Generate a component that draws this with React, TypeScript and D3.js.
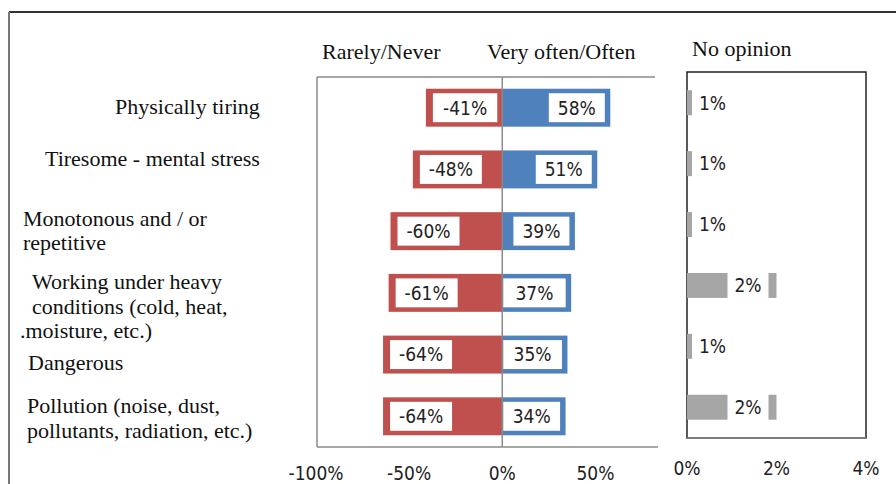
import React from "react";
import * as d3 from "d3";

// ---- data ----
const categoryLines: string[][] = [
  ["Physically tiring"],
  ["Tiresome - mental stress"],
  ["Monotonous and / or", "repetitive"],
  ["Working under heavy", "conditions (cold, heat,", ".moisture, etc.)"],
  ["Dangerous"],
  ["Pollution (noise, dust,", "pollutants, radiation, etc.)"],
];
const rarelyNever = [-41, -48, -60, -61, -64, -64];
const veryOften = [58, 51, 39, 37, 35, 34];
const noOpinion = [1, 1, 1, 2, 1, 2];
const mainTicks = [-100, -50, 0, 50];
const noOpTicks = [0, 2, 4];
const headerLeft = "Rarely/Never";
const headerRight = "Very often/Often";
const headerNoOp = "No opinion";

// ---- layout (styles / positions, not data) ----
const W = 896;
const H = 484;
const labelLayout = [
  { x: [115], dy: [6] },
  { x: [45], dy: [-3] },
  { x: [23, 23], dy: [-5, 19] },
  { x: [32, 32, 20], dy: [-4, 21, 45] },
  { x: [28], dy: [15] },
  { x: [27, 27], dy: [-3, 22] },
];

const RED = "#C0504D";
const BLUE = "#4F81BD";
const GRAY = "#A5A5A5";
const SERIF = "'Liberation Serif', 'Times New Roman', serif";
const SANS = "'DejaVu Sans Condensed', 'DejaVu Sans', sans-serif";

export default function App() {
  const idx = categoryLines.map((_, i) => i);
  const x = d3.scaleLinear().domain([-100, 82]).range([316, 655]);
  const y = d3.scaleBand<number>().domain(idx).range([77, 447]).paddingInner(0.385).paddingOuter(0.19);
  const x2 = d3.scaleLinear().domain([0, 4]).range([687, 866]);
  const y2 = d3.scaleBand<number>().domain(idx).range([72, 438]).paddingInner(0.59).paddingOuter(0.3);
  const fmt = (v: number) => `${v}%`;
  const x0 = x(0);
  const bh = y.bandwidth();

  return (
    <svg width={W} height={H} style={{ position: "absolute", left: 0, top: 0, background: "#fff" }}>
      {/* outer frame */}
      <line x1={9} x2={W} y1={12} y2={12} stroke="#333" strokeWidth={1.8} />
      <line x1={9} x2={9} y1={12} y2={H} stroke="#777" strokeWidth={2} />

      {/* headers */}
      <text x={322} y={59} fontFamily={SERIF} fontSize={22} fill="#111">{headerLeft}</text>
      <text x={487} y={59} fontFamily={SERIF} fontSize={22} fill="#111">{headerRight}</text>
      <text x={692} y={56} fontFamily={SERIF} fontSize={22} fill="#111">{headerNoOp}</text>

      {/* category labels */}
      {categoryLines.map((lines, i) => {
        const c = (y(i) as number) + bh / 2;
        return lines.map((ln, j) => (
          <text key={`c${i}-${j}`} x={labelLayout[i].x[j]} y={c + labelLayout[i].dy[j]}
            fontFamily={SERIF} fontSize={22} fill="#111">{ln}</text>
        ));
      })}

      {/* main plot frame */}
      <line x1={317} x2={655} y1={77} y2={77} stroke="#8a8a8a" strokeWidth={1.5} />
      <line x1={317} x2={317} y1={77} y2={447} stroke="#8a8a8a" strokeWidth={1.5} />
      <line x1={317} x2={658} y1={447} y2={447} stroke="#8a8a8a" strokeWidth={1.5} />

      {/* bars */}
      {idx.map((i) => {
        const top = y(i) as number;
        const rv = rarelyNever[i];
        const ov = veryOften[i];
        const rEnd = x(rv);
        const oEnd = x(ov);
        const rbw = 62;
        const rl = rEnd + 7;
        let rr = rl + rbw;
        if (x0 - rr < 10) rr = x0 - 5;
        const bbw = 56;
        const br = oEnd - 5.5;
        let bl = br - bbw;
        if (bl - x0 < 10) bl = x0 + 1;
        const by = top + 4.5;
        const bbh = bh - 9;
        return (
          <g key={`b${i}`}>
            <rect x={rEnd} y={top} width={x0 - rEnd} height={bh} fill={RED} />
            <rect x={x0} y={top} width={oEnd - x0} height={bh} fill={BLUE} />
            <rect x={rl} y={by} width={rr - rl} height={bbh} fill="#fff" />
            <rect x={bl} y={by} width={br - bl} height={bbh} fill="#fff" />
            <text x={(rl + rr) / 2} y={top + bh / 2} dy="0.36em" textAnchor="middle"
              fontFamily={SANS} fontSize={19} fill="#222">{fmt(rv)}</text>
            <text x={(bl + br) / 2} y={top + bh / 2} dy="0.36em" textAnchor="middle"
              fontFamily={SANS} fontSize={19} fill="#222">{fmt(ov)}</text>
          </g>
        );
      })}

      {/* zero line */}
      <line x1={x0} x2={x0} y1={77} y2={447} stroke="#8a8a8a" strokeWidth={1.5} />

      {/* main ticks */}
      {mainTicks.map((t) => (
        <text key={`t${t}`} x={x(t)} y={480} textAnchor="middle" fontFamily={SANS} fontSize={19} fill="#222">{fmt(t)}</text>
      ))}

      {/* no opinion panel */}
      <rect x={687} y={72} width={866 - 687} height={438 - 72} fill="none" stroke="#222" strokeWidth={1.5} />
      <line x1={687} x2={866} y1={438} y2={438} stroke="#8a8a8a" strokeWidth={1.5} />
      {idx.map((i) => {
        const top = y2(i) as number;
        const h = y2.bandwidth();
        const end = x2(noOpinion[i]);
        const w = 41;
        let l = end - 8 - w;
        if (l < x2(0) + 5) l = x2(0) + 5;
        return (
          <g key={`n${i}`}>
            <rect x={x2(0)} y={top} width={end - x2(0)} height={h} fill={GRAY} />
            <rect x={l} y={top - 1} width={w} height={h + 2} fill="#fff" />
            <text x={l + w / 2} y={top + h / 2} dy="0.36em" textAnchor="middle"
              fontFamily={SANS} fontSize={19} fill="#222">{fmt(noOpinion[i])}</text>
          </g>
        );
      })}
      {noOpTicks.map((t) => (
        <text key={`n${t}`} x={x2(t)} y={475} textAnchor="middle" fontFamily={SANS} fontSize={19} fill="#222">{fmt(t)}</text>
      ))}
    </svg>
  );
}
